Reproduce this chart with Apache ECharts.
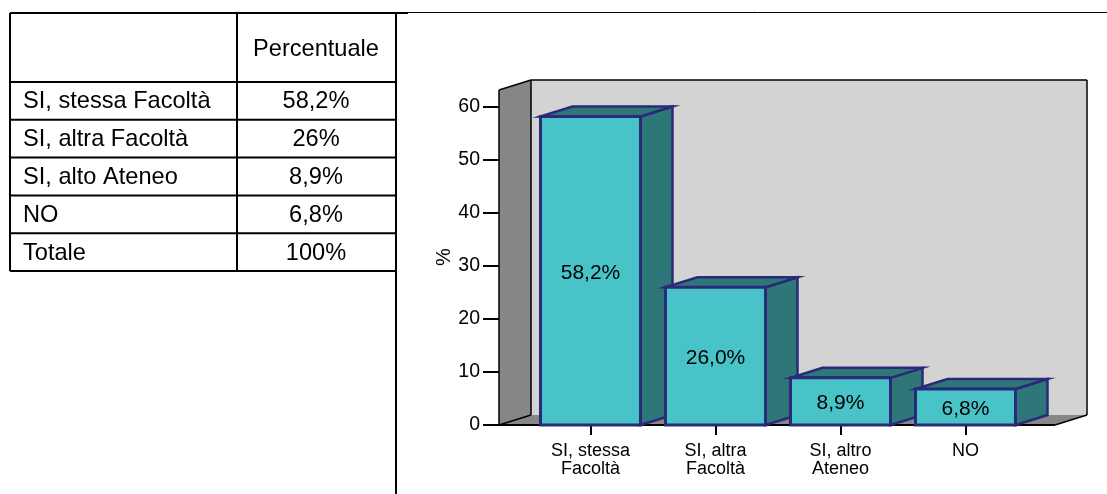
<!DOCTYPE html>
<html><head><meta charset="utf-8">
<style>html,body{margin:0;padding:0;background:#fff}#c{width:1107px;height:494px}</style>
<script src="https://cdn.jsdelivr.net/npm/echarts@6/dist/echarts.min.js"></script>
</head><body><div id="c"></div>
<script>
const categories = ['SI, stessa\nFacoltà', 'SI, altra\nFacoltà', 'SI, altro\nAteneo', 'NO'];
const values = [58.2, 26.0, 8.9, 6.8];
const barLabels = ['58,2%', '26,0%', '8,9%', '6,8%'];
const yTicks = [0, 10, 20, 30, 40, 50, 60];
const tableHeader = ['', 'Percentuale'];
const tableRows = ['SI, stessa Facoltà', 'SI, altra Facoltà', 'SI, alto Ateneo', 'NO', 'Totale'];
const tableValues = ['58,2%', '26%', '8,9%', '6,8%', '100%'];

const FONT = '"Liberation Sans", Arial, sans-serif';
const DX = 32, DY = -10, BAR_W = 100, WALL_L = 29, WALL_R = 27, WALL_TOP = 63.2;
const NAVY = '#2a2a78', FRONT = '#48c3c7', SIDE = '#2e7779', GREY = '#868686', BACK = '#d3d3d3';

function poly(points, fill, stroke, lw) {
  return { type: 'polygon', shape: { points }, style: { fill, stroke: stroke || 'none', lineWidth: lw || 0 } };
}
function line(x1, y1, x2, y2, w) {
  return { type: 'line', shape: { x1, y1, x2, y2 }, style: { stroke: '#000', lineWidth: w } };
}
function renderWalls(params, api) {
  if (params.dataIndex !== 0) return { type: 'group', children: [] };
  const y0 = api.coord([0, 0])[1], yT = api.coord([0, WALL_TOP])[1];
  const band = api.size([1, 0])[0];
  const xL = api.coord([0, 0])[0] - band / 2 - WALL_L;
  const xR = api.coord([3, 0])[0] + band / 2 + WALL_R;
  return { type: 'group', children: [
    poly([[xL + DX, yT + DY], [xR + DX, yT + DY], [xR + DX, y0 + DY], [xL + DX, y0 + DY]], BACK),
    poly([[xL, yT], [xL + DX, yT + DY], [xL + DX, y0 + DY], [xL, y0]], GREY),
    poly([[xL, y0], [xL + DX, y0 + DY], [xR + DX, y0 + DY], [xR, y0]], GREY),
    line(xL, yT, xL + DX, yT + DY, 1.5),
    line(xL + DX, yT + DY, xR + DX, yT + DY, 1.5),
    line(xL + DX, yT + DY, xL + DX, y0 + DY, 1.5),
    line(xR + DX, yT + DY, xR + DX, y0 + DY, 1.5),
    line(xL, y0, xL + DX, y0 + DY, 1.5),
    line(xR, y0, xR + DX, y0 + DY, 1.5),
    line(xL, y0, xR, y0, 2),
    line(xL, yT, xL, y0, 1.5)
  ]};
}
function renderBar(params, api) {
  const p = api.coord([api.value(0), api.value(1)]);
  const y0 = api.coord([api.value(0), 0])[1];
  const x1 = p[0] - BAR_W / 2, x2 = p[0] + BAR_W / 2, yt = p[1];
  return { type: 'group', children: [
    poly([[x2, yt], [x2 + DX, yt + DY], [x2 + DX, y0 + DY], [x2, y0]], SIDE, NAVY, 2.5),
    poly([[x1, yt], [x1 + DX, yt + DY], [x2 + DX, yt + DY], [x2, yt]], SIDE, NAVY, 2.5),
    poly([[x1, yt], [x2, yt], [x2, y0], [x1, y0]], FRONT, NAVY, 3),
    { type: 'text', style: { x: p[0], y: (yt + y0) / 2 + 2, text: barLabels[params.dataIndex], fill: '#000',
        font: '21px ' + FONT, align: 'center', verticalAlign: 'middle' } }
  ]};
}

const tLeft = 10, tMid = 237, tRight = 395, tTop = 13, tHeadBot = 82, tBot = 271;
const rowH = (tBot - tHeadBot) / tableRows.length;
const g = [];
function gLine(x1, y1, x2, y2, w) { g.push({ type: 'line', shape: { x1, y1, x2, y2 }, style: { stroke: '#000', lineWidth: w } }); }
function gText(x, y, text, align) { g.push({ type: 'text', x, y, style: { text, fill: '#000', font: '23.6px ' + FONT, align, verticalAlign: 'middle' } }); }
gLine(tLeft, tTop, tRight, tTop, 2);
gLine(tLeft, tHeadBot, tRight, tHeadBot, 2);
gLine(tLeft, tTop, tLeft, tBot, 2);
gLine(tMid, tTop, tMid, tBot, 2);
gLine(tRight + 1, tTop, tRight + 1, 494, 2);
gLine(tRight, tTop, 408, tTop, 2);
gLine(408, tTop - 0.5, 1107, tTop - 0.5, 1);
gText((tMid + tRight) / 2, 49, tableHeader[1], 'center');
tableRows.forEach((r, i) => {
  const yb = tHeadBot + rowH * (i + 1);
  gLine(tLeft, yb, tRight, yb, 2);
  gText(23, yb - rowH / 2 + 1, r, 'left');
  gText((tMid + tRight) / 2, yb - rowH / 2 + 1, tableValues[i], 'center');
});

const chart = echarts.init(document.getElementById('c'), null, { renderer: 'canvas' });
chart.setOption({
  animation: false,
  backgroundColor: '#fff',
  grid: { left: 528, top: 107, width: 500, height: 318, containLabel: false },
  xAxis: {
    type: 'category', data: categories,
    axisLine: { show: false },
    axisTick: { show: true, alignWithLabel: true, length: 10, lineStyle: { color: '#000', width: 2 } },
    axisLabel: { color: '#000', fontFamily: FONT, fontSize: 18, lineHeight: 18, margin: 17, interval: 0 }
  },
  yAxis: {
    type: 'value', min: 0, max: yTicks[yTicks.length - 1], interval: 10, offset: 29,
    name: '%', nameLocation: 'middle', nameRotate: 90, nameGap: 35,
    nameTextStyle: { color: '#000', fontFamily: FONT, fontSize: 20, padding: [0, 0, 0, 18] },
    splitLine: { show: false },
    axisLine: { show: false },
    axisTick: { show: true, length: 16, lineStyle: { color: '#000', width: 2 } },
    axisLabel: { color: '#000', fontFamily: FONT, fontSize: 19.5, margin: 19 }
  },
  graphic: g,
  series: [
    { type: 'custom', z: 1, renderItem: renderWalls, data: categories.map((c, i) => [i, values[i]]), clip: false, silent: true },
    { type: 'custom', z: 2, renderItem: renderBar, data: categories.map((c, i) => [i, values[i]]), clip: false, silent: true }
  ]
});
</script></body></html>
